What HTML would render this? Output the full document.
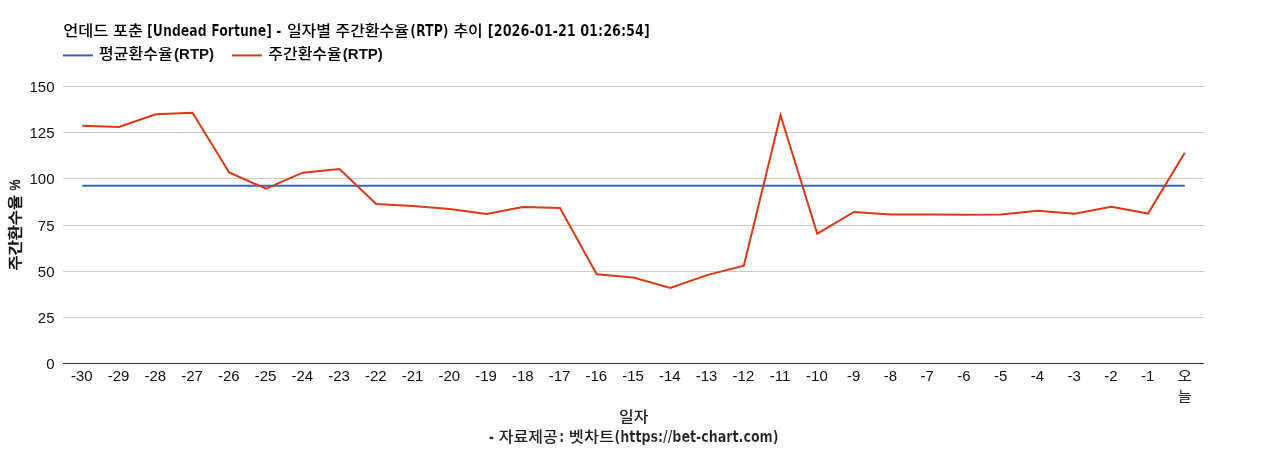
<!DOCTYPE html>
<html lang="ko"><head><meta charset="utf-8"><title>언데드 포춘 [Undead Fortune] - 일자별 주간환수율(RTP) 추이</title>
<style>
html,body{margin:0;padding:0;background:#fff;}
body{width:1268px;height:450px;overflow:hidden;}
svg{display:block;will-change:transform;}
text{font-family:'Liberation Sans','Noto Sans CJK KR',sans-serif;font-weight:400;}
.k{font-family:'Liberation Sans','Noto Sans CJK KR',sans-serif;font-weight:400;}
.km{font-family:'Liberation Sans','Noto Sans CJK KR',sans-serif;font-weight:500;}
.kb{font-family:'Liberation Sans','Noto Sans CJK KR',sans-serif;font-weight:700;}
.d{font-family:'DejaVu Sans Condensed','Liberation Sans',sans-serif;font-weight:700;stroke:#ffffff;stroke-width:0.2px;}
.b{font-family:'Liberation Sans',sans-serif;font-weight:700;}
.r{font-family:'Liberation Sans',sans-serif;font-weight:400;}
</style></head><body>
<svg width="1268" height="450" viewBox="0 0 1268 450">
<rect width="1268" height="450" fill="#ffffff"/>
<g id="grid">
<rect x="63.0" y="86" width="1141.0" height="1" fill="#cccccc"/>
<rect x="63.0" y="132" width="1141.0" height="1" fill="#cccccc"/>
<rect x="63.0" y="178" width="1141.0" height="1" fill="#cccccc"/>
<rect x="63.0" y="225" width="1141.0" height="1" fill="#cccccc"/>
<rect x="63.0" y="271" width="1141.0" height="1" fill="#cccccc"/>
<rect x="63.0" y="317" width="1141.0" height="1" fill="#cccccc"/>
</g>
<g id="series">
<path d="M82.2,185.7L1184.8,185.7" stroke="#3366cc" stroke-width="2" fill="none"/>
<path d="M82.2,125.8L119.0,126.9L155.7,114.2L192.5,112.8L229.2,172.5L266.0,188.7L302.7,172.7L339.5,169.1L376.2,203.9L413.0,206.0L449.7,208.9L486.5,214.0L523.2,206.9L560.0,208.0L596.7,274.3L633.5,277.5L670.2,288.0L707.0,275.1L743.8,265.8L780.5,115.3L817.3,233.7L854.0,212.0L890.8,214.5L927.5,214.5L964.3,214.7L1001.0,214.4L1037.8,210.7L1074.5,213.8L1111.3,206.8L1148.0,213.6L1184.8,152.7" stroke="#dc3912" stroke-width="2" fill="none"/>
</g>
<rect x="63.0" y="363" width="1141.0" height="1" fill="#333333"/>
<g id="yticks" font-size="15.5" fill="#111111" text-anchor="end">
<text class="r" transform="translate(54.5,91.7) scale(0.968,1)">150</text>
<text class="r" transform="translate(54.5,137.7) scale(0.968,1)">125</text>
<text class="r" transform="translate(54.5,183.7) scale(0.968,1)">100</text>
<text class="r" transform="translate(54.5,230.7) scale(0.968,1)">75</text>
<text class="r" transform="translate(54.5,276.7) scale(0.968,1)">50</text>
<text class="r" transform="translate(54.5,322.7) scale(0.968,1)">25</text>
<text class="r" transform="translate(54.5,368.7) scale(0.968,1)">0</text>
</g>
<g id="xticks" font-size="15.5" fill="#111111" text-anchor="middle">
<text class="r" transform="translate(81.8,380.7) scale(0.968,1)">-30</text>
<text class="r" transform="translate(118.6,380.7) scale(0.968,1)">-29</text>
<text class="r" transform="translate(155.3,380.7) scale(0.968,1)">-28</text>
<text class="r" transform="translate(192.1,380.7) scale(0.968,1)">-27</text>
<text class="r" transform="translate(228.8,380.7) scale(0.968,1)">-26</text>
<text class="r" transform="translate(265.6,380.7) scale(0.968,1)">-25</text>
<text class="r" transform="translate(302.3,380.7) scale(0.968,1)">-24</text>
<text class="r" transform="translate(339.1,380.7) scale(0.968,1)">-23</text>
<text class="r" transform="translate(375.8,380.7) scale(0.968,1)">-22</text>
<text class="r" transform="translate(412.6,380.7) scale(0.968,1)">-21</text>
<text class="r" transform="translate(449.3,380.7) scale(0.968,1)">-20</text>
<text class="r" transform="translate(486.1,380.7) scale(0.968,1)">-19</text>
<text class="r" transform="translate(522.8,380.7) scale(0.968,1)">-18</text>
<text class="r" transform="translate(559.6,380.7) scale(0.968,1)">-17</text>
<text class="r" transform="translate(596.3,380.7) scale(0.968,1)">-16</text>
<text class="r" transform="translate(633.1,380.7) scale(0.968,1)">-15</text>
<text class="r" transform="translate(669.8,380.7) scale(0.968,1)">-14</text>
<text class="r" transform="translate(706.6,380.7) scale(0.968,1)">-13</text>
<text class="r" transform="translate(743.4,380.7) scale(0.968,1)">-12</text>
<text class="r" transform="translate(780.1,380.7) scale(0.968,1)">-11</text>
<text class="r" transform="translate(816.9,380.7) scale(0.968,1)">-10</text>
<text class="r" transform="translate(853.6,380.7) scale(0.968,1)">-9</text>
<text class="r" transform="translate(890.4,380.7) scale(0.968,1)">-8</text>
<text class="r" transform="translate(927.1,380.7) scale(0.968,1)">-7</text>
<text class="r" transform="translate(963.9,380.7) scale(0.968,1)">-6</text>
<text class="r" transform="translate(1000.6,380.7) scale(0.968,1)">-5</text>
<text class="r" transform="translate(1037.4,380.7) scale(0.968,1)">-4</text>
<text class="r" transform="translate(1074.1,380.7) scale(0.968,1)">-3</text>
<text class="r" transform="translate(1110.9,380.7) scale(0.968,1)">-2</text>
<text class="r" transform="translate(1147.6,380.7) scale(0.968,1)">-1</text>
</g>
<text class="k" transform="translate(1177.43,380.6) scale(1.0600,0.92)" font-size="15" fill="#222222">오</text>
<text class="k" transform="translate(1177.86,400.8) scale(1.0200,0.92)" font-size="15" fill="#222222">늘</text>
<g id="title">
<text class="km" transform="translate(63.28,36.0) scale(1.0224,0.92)" font-size="16" fill="#000000">언데드 포춘</text>
<text class="d" transform="translate(147.07,36.0) scale(0.9287,1.00)" font-size="15" fill="#000000">[Undead Fortune] -</text>
<text class="km" transform="translate(286.90,36.0) scale(1.0000,0.92)" font-size="16" fill="#000000">일자별 주간환수율</text>
<text class="d" transform="translate(410.37,36.0) scale(0.9282,1.00)" font-size="15" fill="#000000">(RTP)</text>
<text class="km" transform="translate(453.40,36.0) scale(1.0000,0.92)" font-size="16" fill="#000000">추이</text>
<text class="d" transform="translate(487.85,36.0) scale(0.9506,1.00)" font-size="15" fill="#000000">[2026-01-21 01:26:54]</text>
</g>
<g id="legend">
<rect x="63" y="54.4" width="30" height="2" fill="#3366cc"/>
<text class="km" transform="translate(99.10,59.1) scale(1.0000,0.92)" font-size="16" fill="#000000">평균환수율</text>
<text class="b" x="174.10" y="59.3" font-size="15" fill="#111111">(RTP)</text>
<rect x="232" y="54.4" width="30" height="2" fill="#dc3912"/>
<text class="km" transform="translate(268.25,59.1) scale(1.0000,0.92)" font-size="16" fill="#000000">주간환수율</text>
<text class="b" x="342.85" y="59.3" font-size="15" fill="#111111">(RTP)</text>
</g>
<g id="ytitle" transform="translate(0,224.5) rotate(-90)">
<text stroke="#111111" stroke-width="0.45" class="km" transform="translate(-45.93,20.3) scale(1.0264,0.85)" font-size="16" fill="#111111">주간환수율</text>
<text stroke="#111111" stroke-width="0.5" class="r" transform="translate(33.88,20.2) scale(0.8167,1.00)" font-size="15" fill="#111111">%</text>
</g>
<g id="xtitle">
<text class="km" transform="translate(619.00,422.0) scale(1.0000,0.92)" font-size="16" fill="#222222">일자</text>
<text class="d" transform="translate(488.75,442.0) scale(0.9500,1.00)" font-size="15" fill="#222222">-</text>
<text class="km" transform="translate(498.80,442.0) scale(1.0000,0.92)" font-size="16" fill="#222222">자료제공</text>
<text class="d" transform="translate(559.17,442.0) scale(0.9333,1.00)" font-size="15" fill="#222222">:</text>
<text class="km" transform="translate(568.77,442.0) scale(1.0279,0.92)" font-size="16" fill="#222222">벳차트</text>
<text class="d" transform="translate(614.56,442.0) scale(0.9382,1.00)" font-size="15" fill="#222222">(https://bet-chart.com)</text>
</g>
</svg></body></html>
